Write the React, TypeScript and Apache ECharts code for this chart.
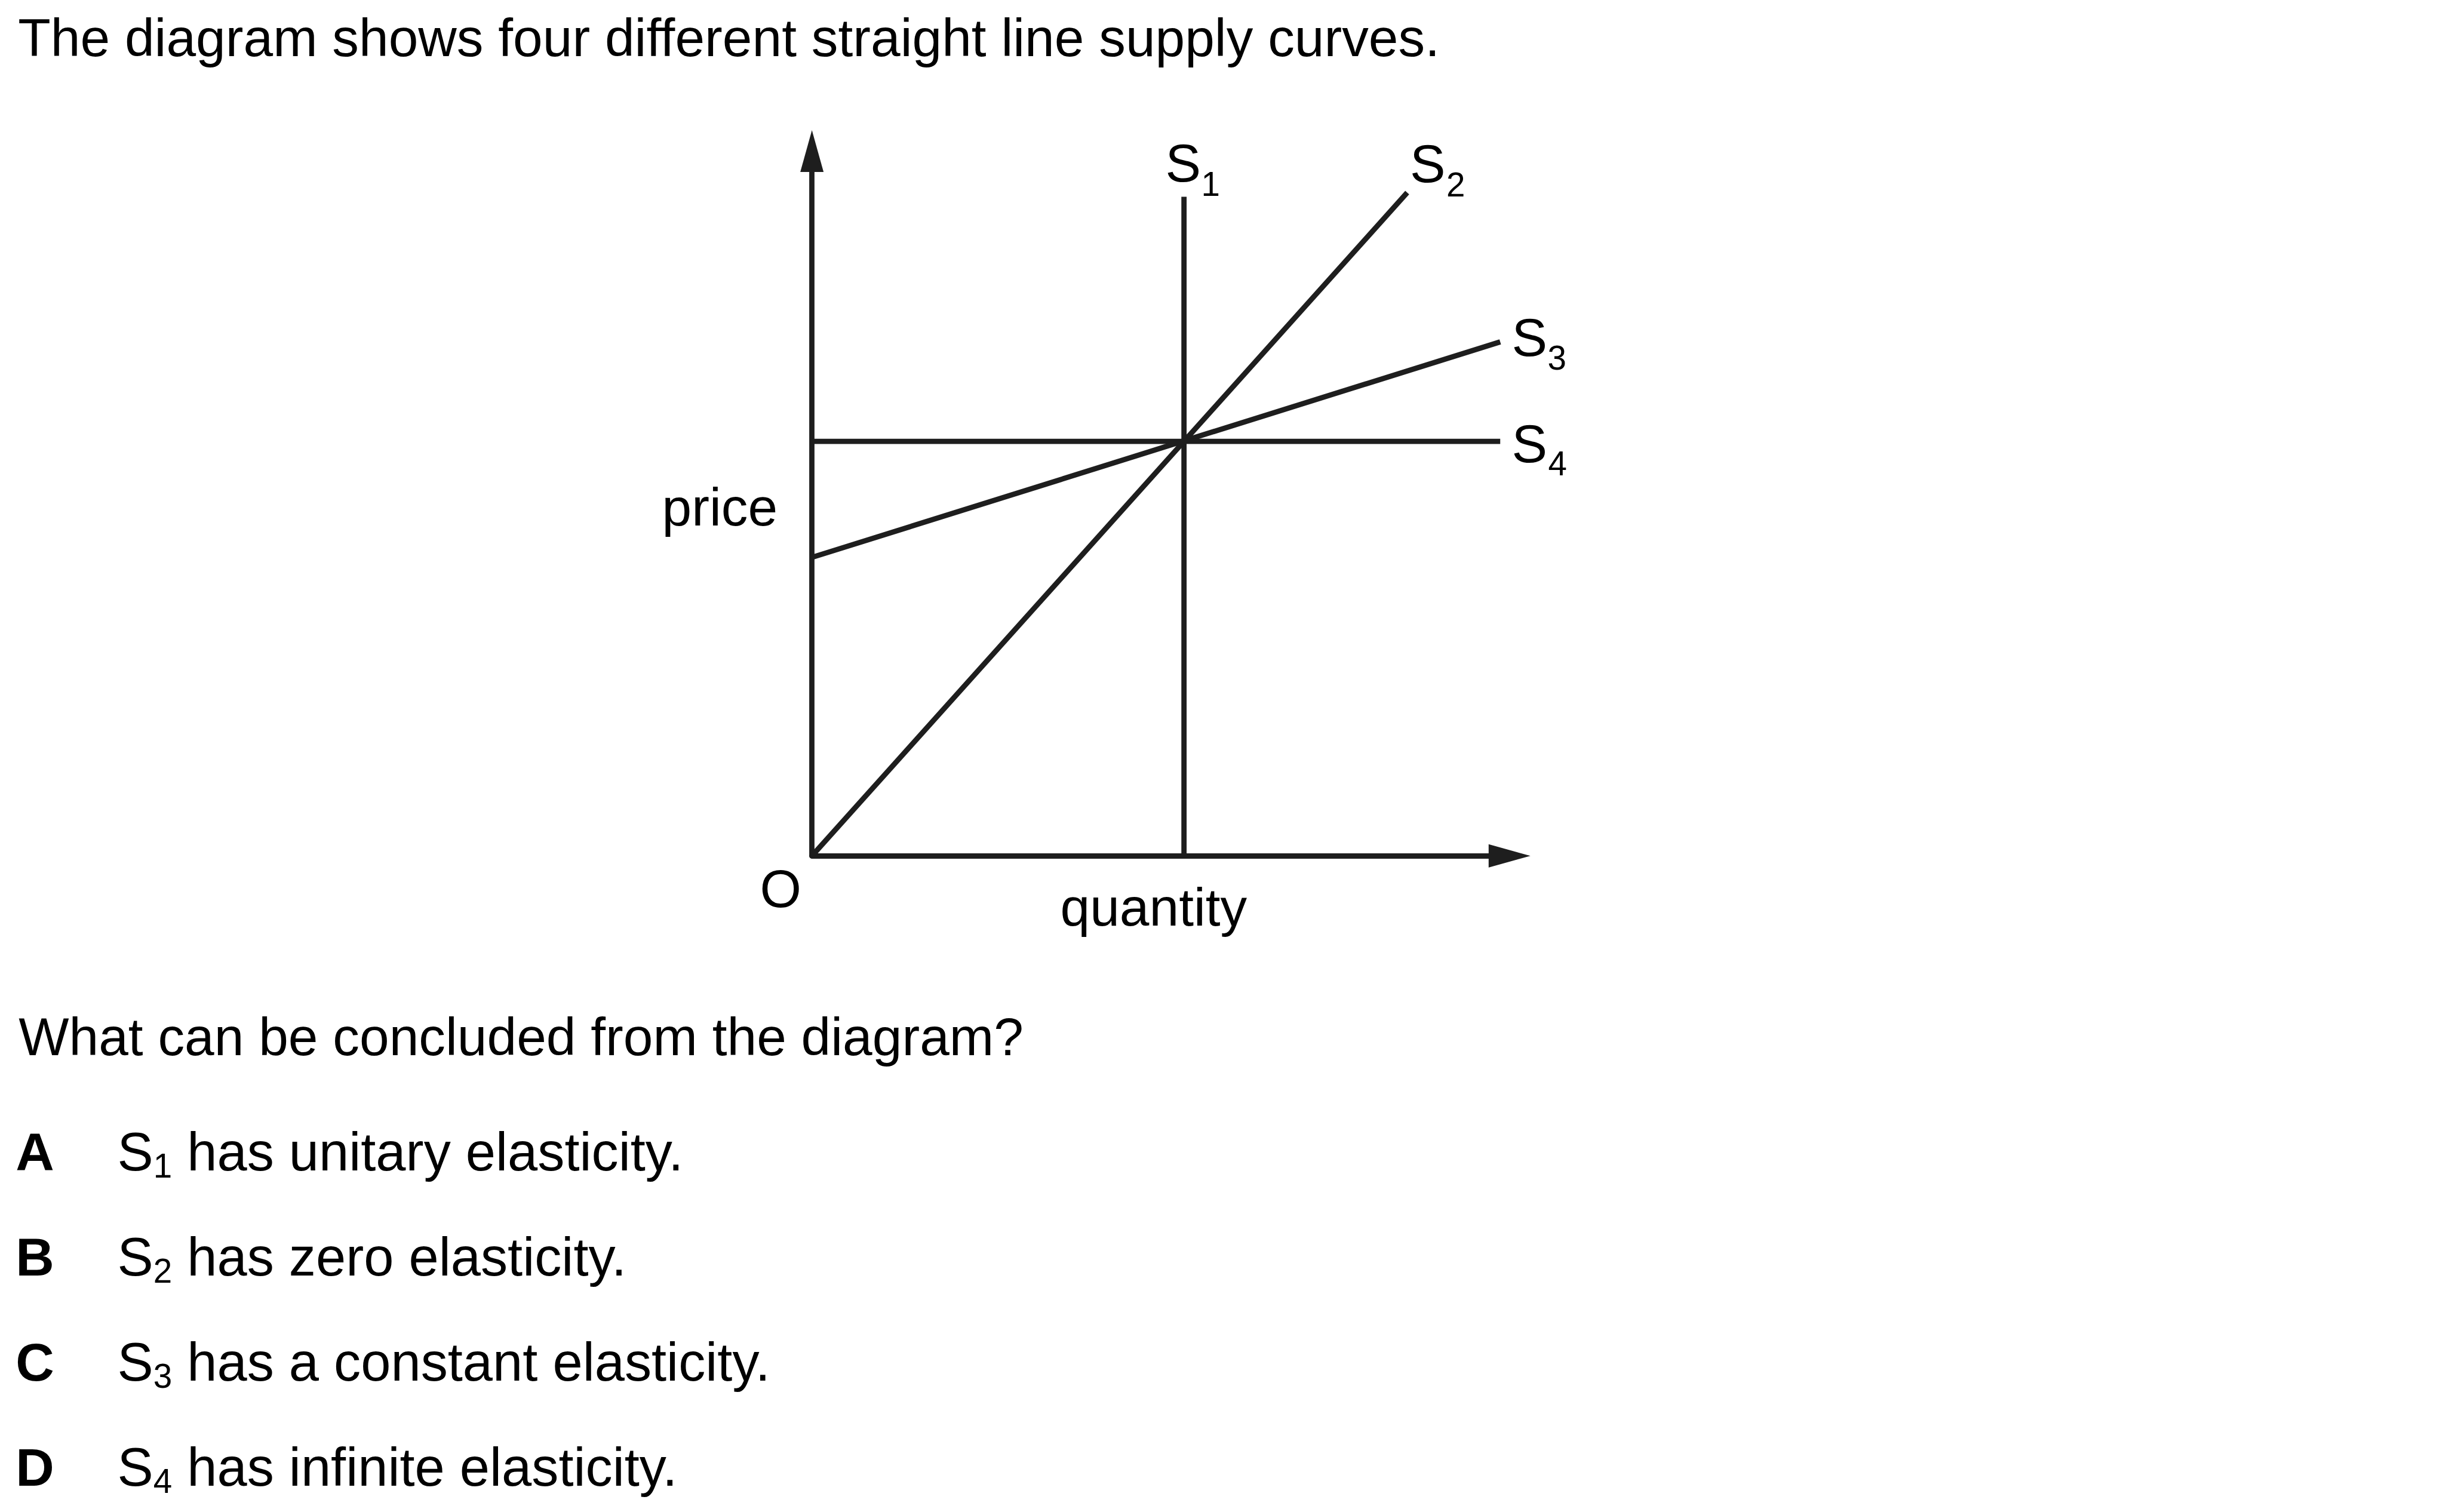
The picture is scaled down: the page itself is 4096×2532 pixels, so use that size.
import React, { useEffect, useRef } from "react";
import * as echarts from "echarts";

// ---- data (quantity, price) in diagram units ----
const curveNames = ["S1", "S2", "S3", "S4"];
const s1Points = [[10, 0], [10, 15.9]];
const s2Points = [[0, 0], [16, 16]];
const s3Points = [[0, 7.2], [18.5, 12.4]];
const s4Points = [[0, 10], [18.5, 10]];
const quantityMax = 18.75;
const priceMax = 17;

const titleText = "The diagram shows four different straight line supply curves.";
const questionText = "What can be concluded from the diagram?";
const optionLetters = ["A", "B", "C", "D"];
const optionSubs = ["1", "2", "3", "4"];
const optionRest = [
  "has unitary elasticity.",
  "has zero elasticity.",
  "has a constant elasticity.",
  "has infinite elasticity.",
];

const K = 0.975;
const FONT = "'Liberation Sans', Arial, Helvetica, sans-serif";
const F = 91.6 * K;
const FO = 92.6 * K;
const FS = 58 * K;
const LINE = "#1e1e1e";

function txt(text: string, x: number, baseline: number, size: number, bold = false) {
  return {
    type: "text",
    x,
    y: baseline - 0.3465 * size,
    silent: true,
    style: {
      text,
      fontSize: size,
      fontFamily: FONT,
      fontWeight: bold ? "bold" : "normal",
      fill: "#000",
      align: "left",
      verticalAlign: "middle",
    },
  };
}

export default function App() {
  const ref = useRef<HTMLDivElement>(null);
  useEffect(() => {
    if (!ref.current) return;
    const chart = echarts.init(ref.current, null, { renderer: "svg" });

    const originX = 1394.5 * K;
    const originY = 1470 * K;
    const unitX = 63.9 * K;
    const unitY = 71.2 * K;

    const graphics: any[] = [];
    graphics.push(txt(titleText, 31 * K, 96 * K, F));
    graphics.push(txt("price", 1137 * K, 903 * K, F));
    graphics.push(txt("O", 1305 * K, 1558 * K, F));
    graphics.push(txt("quantity", 1821 * K, 1590 * K, F));

    const labelPos = [
      { sx: 2001.5, sb: 312, ux: 2063, ub: 337 },
      { sx: 2421.5, sb: 313, ux: 2484, ub: 338 },
      { sx: 2596.5, sb: 611, ux: 2658, ub: 635 },
      { sx: 2596.5, sb: 794, ux: 2659, ub: 817 },
    ];
    curveNames.forEach((n, i) => {
      const p = labelPos[i];
      graphics.push(txt(n.charAt(0), p.sx * K, p.sb * K, F));
      graphics.push(txt(n.slice(1), p.ux * K, p.ub * K, FS));
    });

    graphics.push(txt(questionText, 32 * K, 1812 * K, F));
    const baselines = [2010, 2190.5, 2371, 2551.5];
    optionLetters.forEach((L, i) => {
      const b = baselines[i] * K;
      graphics.push(txt(L, 27 * K, b, F, true));
      const sx = 201.5 * K;
      graphics.push(txt("S", sx, b, FO));
      const subX = sx + 0.667 * FO;
      graphics.push(txt(optionSubs[i], subX, b + 13 * K, FS));
      const restX = subX + 0.556 * FS + 0.278 * FO;
      graphics.push(txt(optionRest[i], restX, b, FO));
    });

    const series = [s1Points, s2Points, s3Points, s4Points].map((d, i) => ({
      name: curveNames[i],
      type: "line",
      data: d,
      symbol: "none",
      silent: true,
      lineStyle: { color: LINE, width: 8.8, cap: "butt" },
    }));

    const axisCommon = {
      type: "value",
      min: 0,
      splitLine: { show: false },
      axisTick: { show: false },
      axisLabel: { show: false },
      axisLine: {
        show: true,
        onZero: true,
        symbol: ["none", "triangle"],
        symbolSize: [39, 70],
        lineStyle: { color: LINE, width: 8.8 },
      },
    };

    chart.setOption({
      animation: false,
      backgroundColor: "#ffffff",
      grid: {
        left: originX,
        top: originY - priceMax * unitY,
        width: quantityMax * unitX,
        height: priceMax * unitY,
        containLabel: false,
      },
      xAxis: { ...axisCommon, max: quantityMax },
      yAxis: { ...axisCommon, max: priceMax },
      series,
      graphic: graphics,
    });
    return () => chart.dispose();
  }, []);
  return (
    <div
      ref={ref}
      style={{ position: "absolute", left: 0, top: 0, width: 4096, height: 2532, background: "#fff" }}
    />
  );
}
